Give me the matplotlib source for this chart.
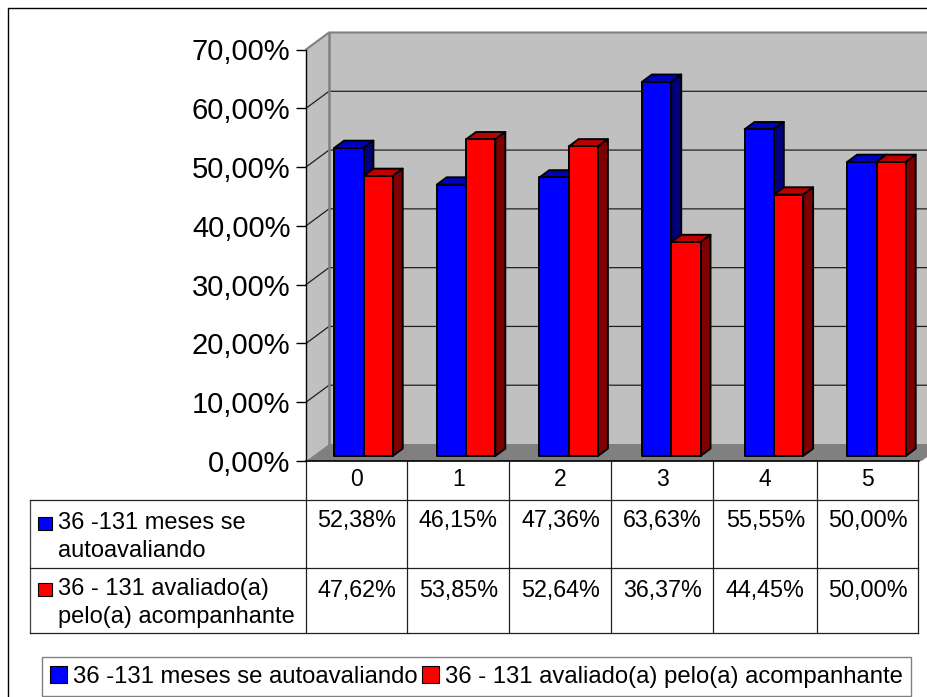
import matplotlib
matplotlib.use("Agg")
import matplotlib.pyplot as plt
from matplotlib.patches import Polygon, Patch, Rectangle

plt.rcParams['font.family'] = ['Liberation Sans', 'DejaVu Sans']

# dados
categories = ['0', '1', '2', '3', '4', '5']
series_names = ['36 -131 meses se autoavaliando', '36 - 131 avaliado(a) pelo(a) acompanhante']
row_labels = ['36 -131 meses se\nautoavaliando', '36 - 131 avaliado(a)\npelo(a) acompanhante']
auto = [52.38, 46.15, 47.36, 63.63, 55.55, 50.00]
acomp = [47.62, 53.85, 52.64, 36.37, 44.45, 50.00]
yticks = [0, 10, 20, 30, 40, 50, 60, 70]

W, H = 928, 697
fig = plt.figure(figsize=(W / 100, H / 100), dpi=100, facecolor='white')

# camada de fundo em pixels: moldura e tabela
bg = fig.add_axes([0, 0, 1, 1])
bg.set_xlim(0, W)
bg.set_ylim(H, 0)
bg.axis('off')
bg.plot([8, 8, W], [H, 7.5, 7.5], color='black', lw=1.0)

col_x = [306, 407.5, 509.5, 611.5, 713.5, 817, 918]
row_y = [461, 500, 568, 633]
for x in col_x:
    bg.plot([x, x], [row_y[0], row_y[-1]], color='#202020', lw=0.9)
bg.plot([30, 30], [row_y[1], row_y[-1]], color='#404040', lw=0.9)
for y in row_y[1:]:
    bg.plot([30, col_x[-1]], [y, y], color='#202020', lw=0.9)

for i, cat in enumerate(categories):
    cx = (col_x[i] + col_x[i + 1]) / 2
    bg.text(cx, 480, cat, ha='center', va='center', fontsize=16.5)
    bg.text(cx, 521, f'{auto[i]:.2f}%'.replace('.', ','), ha='center', va='center', fontsize=16.8)
    bg.text(cx, 590, f'{acomp[i]:.2f}%'.replace('.', ','), ha='center', va='center', fontsize=16.8)

for label, y, swatch_y, color in zip(row_labels, [537, 603], [517, 583], ['#0000FF', '#FF0000']):
    bg.add_patch(Rectangle((38, swatch_y), 14, 13, fc=color, ec='black', lw=0.8))
    bg.text(58.5, y, label, ha='left', va='center', fontsize=17, linespacing=1.33)

# grafico "3D"
cat_w = 102.6
x0, x1, y_top, y_bot = 306, 306 + 6 * cat_w, 49.5, 461
ax = fig.add_axes([x0 / W, 1 - y_bot / H, (x1 - x0) / W, (y_bot - y_top) / H])
ax.patch.set_alpha(0)
ax.set_xlim(-0.5, 5.5)
ax.set_ylim(0, 70)

ddx = 23 / cat_w  # profundidade em categorias
ddy = 17 / 5.88   # profundidade em %
wall = '#C0C0C0'
edge = '#808080'
left, right = -0.5, 5.5

ax.add_patch(Polygon([(left + ddx, ddy), (right + ddx, ddy), (right + ddx, 70 + ddy), (left + ddx, 70 + ddy)],
                     fc=wall, ec='none', clip_on=False, zorder=1))
ax.add_patch(Polygon([(left, 0), (left + ddx, ddy), (left + ddx, 70 + ddy), (left, 70)],
                     fc=wall, ec='none', clip_on=False, zorder=1))
for t in yticks[1:-1]:
    ax.plot([left, left + ddx, right + ddx], [t, t + ddy, t + ddy], color='#202020', lw=0.9, clip_on=False, zorder=2)
ax.plot([left, left + ddx, right + ddx], [70, 70 + ddy, 70 + ddy], color=edge, lw=1.5, clip_on=False, zorder=2)
ax.plot([left + ddx, left + ddx], [ddy, 70 + ddy], color=edge, lw=1.8, clip_on=False, zorder=2)
ax.add_patch(Polygon([(left, 0), (right, 0), (right + ddx, ddy), (left + ddx, ddy)],
                     fc='#808080', ec='none', clip_on=False, zorder=3))

bar_w = 29.3 / cat_w
front = 0.27
depth = 0.43


def draw_bar(xl, v, colors, z):
    fx = xl + front * ddx
    fy = 0.3 * ddy
    sx = depth * ddx
    sy = depth * ddy
    style = dict(ec='black', lw=1.4, joinstyle='round', clip_on=False, zorder=z)
    ax.add_patch(Polygon([(fx, fy + v), (fx + bar_w, fy + v), (fx + bar_w + sx, fy + v + sy), (fx + sx, fy + v + sy)],
                         fc=colors[1], **style))
    ax.add_patch(Polygon([(fx + bar_w, fy), (fx + bar_w + sx, fy + sy), (fx + bar_w + sx, fy + v + sy), (fx + bar_w, fy + v)],
                         fc=colors[2], **style))
    ax.add_patch(Rectangle((fx, fy), bar_w, v, fc=colors[0], **style))


blue = ('#0000FF', '#0000BF', '#00007F')
red = ('#FF0000', '#BF0000', '#7F0000')
for i in range(len(categories)):
    draw_bar(i - bar_w, auto[i], blue, 4 + i)
    draw_bar(i, acomp[i], red, 4 + i + 0.5)

for s in ['top', 'right', 'bottom']:
    ax.spines[s].set_visible(False)
ax.spines['left'].set_linewidth(1.0)
ax.spines['left'].set_zorder(20)
ax.set_xticks([])
ax.set_yticks(yticks)
ax.set_yticklabels([f'{t:.2f}%'.replace('.', ',') for t in yticks], fontsize=21)
ax.tick_params(axis='y', length=7.2, width=1.0, pad=4, color='black')
ax.plot([left, 5.47], [0, 0], color='black', lw=1.2, clip_on=False, zorder=20)

handles = [Patch(fc='#0000FF', ec='black', lw=0.8), Patch(fc='#FF0000', ec='black', lw=0.8)]
leg = fig.legend(handles, series_names, loc='lower left', bbox_to_anchor=(42 / W, 1 - 696 / H),
                 bbox_transform=fig.transFigure, ncol=2, fontsize=17.2, frameon=True, fancybox=False,
                 edgecolor='#606060', handlelength=0.7, handleheight=0.7, handletextpad=0.25,
                 columnspacing=0.2, borderpad=0.35, borderaxespad=0)
leg.get_frame().set_linewidth(1.0)

fig.savefig('out.png', dpi=100)
